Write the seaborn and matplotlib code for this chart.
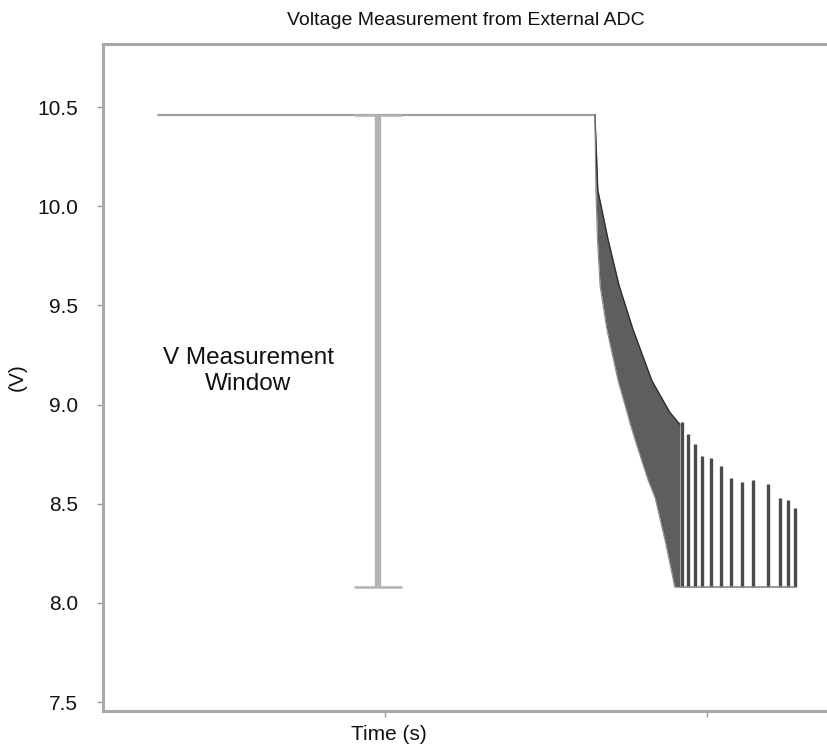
import numpy as np
import matplotlib
matplotlib.use("Agg")
import matplotlib.pyplot as plt
import seaborn as sns

# values
level_t = [0.295, 1.652]
level_v = [10.46, 10.46]

window_t = 0.978
window_top = 10.46
window_bottom = 8.08

# dense decaying part of the waveform: voltage level, left and right edge in time
band_v = [10.46, 10.08, 9.83, 9.60, 9.38, 9.12, 8.96, 8.90, 8.79, 8.62, 8.53, 8.30, 8.08]
band_left = [1.652, 1.655, 1.660, 1.668, 1.689, 1.724, 1.752, 1.762, 1.783, 1.817, 1.839, 1.872, 1.900]
band_right = [1.652, 1.661, 1.693, 1.727, 1.770, 1.829, 1.885, 1.916, 1.916, 1.916, 1.916, 1.916, 1.916]

# separate spikes at the end of the trace
spike_t = [1.922, 1.941, 1.963, 1.984, 2.012, 2.043, 2.075, 2.109, 2.143, 2.189, 2.227, 2.252, 2.273]
spike_v = [8.91, 8.85, 8.80, 8.74, 8.73, 8.69, 8.63, 8.61, 8.62, 8.60, 8.53, 8.52, 8.48]
spike_floor = 8.08

y_ticks = [7.5, 8.0, 8.5, 9.0, 9.5, 10.0, 10.5]
x_ticks = [1.0, 2.0]

sns.set_style("white")
plt.rcParams['font.family'] = ['Liberation Sans', 'DejaVu Sans']

fig = plt.figure(figsize=(8.28, 7.5), dpi=100)
ax = fig.add_axes([103/828, 1 - 711/750, 1 - 103/828, (711 - 44)/750])

line_gray = '#a0a0a0'

# flat level before the decay
sns.lineplot(x=level_t, y=level_v, ax=ax, color=line_gray, linewidth=1.6)

# measurement window bar
ax.errorbar([window_t], [(window_top + window_bottom) / 2],
            yerr=[(window_top - window_bottom) / 2], fmt='none',
            ecolor='#b2b2b2', elinewidth=4.5, capsize=17, capthick=1.8)

# decaying waveform
ax.fill_betweenx(band_v, band_left, band_right, color='#5e5e5e', linewidth=0)
ax.plot(band_right[:8], band_v[:8], color='#2e2e2e', linewidth=1.0)
ax.plot(band_left, band_v, color='#8a8a8a', linewidth=0.8)
ax.vlines(spike_t, spike_floor, spike_v, color='#4a4a4a', linewidth=2.4)
ax.hlines(spike_floor, band_right[-1], spike_t[-1], color='#888888', linewidth=1.2)

ax.text(0.575, 9.17, "V Measurement\nWindow", ha='center', va='center',
        fontsize=17.5, linespacing=1.25, color='#111111')

ax.set_xlim(0.124, 2.376)
ax.set_ylim(7.455, 10.818)
ax.set_yticks(y_ticks)
ax.set_yticklabels([f"{v:.1f}" for v in y_ticks])
ax.set_xticks(x_ticks)
ax.set_xticklabels([])

ax.tick_params(axis='y', length=4, width=1, color='#999999', pad=14,
               labelsize=15, left=True, labelcolor='#111111')
ax.tick_params(axis='x', length=4, width=1, color='#999999', bottom=True)

for side in ['left', 'top', 'bottom']:
    ax.spines[side].set_color('#a8a8a8')
    ax.spines[side].set_linewidth(2.2)
ax.spines['right'].set_visible(False)

ax.set_title("Voltage Measurement from External ADC", fontsize=14, pad=14, color='#111111')
ax.set_ylabel("(V)", fontsize=15, color='#111111')
ax.yaxis.set_label_coords(-0.105, 0.5)
ax.set_xlabel("Time (s)", fontsize=15, color='#111111')
ax.xaxis.set_label_coords(0.395, -0.021)

fig.savefig("out.png", dpi=100, facecolor='white')
